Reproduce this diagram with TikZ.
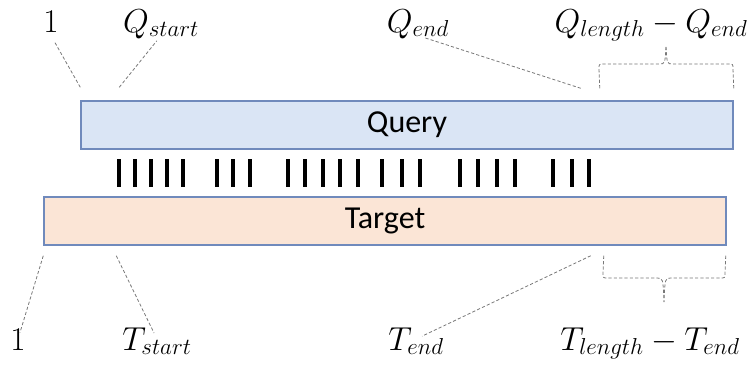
\documentclass[tikz,border=0pt]{standalone}
\usepackage{fontspec}
\newfontfamily\boxfont{Carlito}
\usepackage{tikz}
\usetikzlibrary{calc}

\definecolor{qfill}{HTML}{DAE5F5}
\definecolor{tfill}{HTML}{FBE5D6}
\definecolor{boxline}{RGB}{112,138,188}
\definecolor{guidegray}{RGB}{120,120,120}

\begin{document}
\begin{tikzpicture}[x=0.75pt,y=-0.75pt,
      seqbox/.style={draw=boxline,line width=1.1pt,minimum height=36pt,
        inner sep=0pt,font=\boxfont\fontsize{24}{28}\selectfont},
      lbl/.style={anchor=base,inner sep=0pt,text height=0.8em,text depth=0.25em,
        font=\fontsize{23}{28}\selectfont},
      guide/.style={draw=guidegray,line width=0.6pt,dash pattern=on 2.4pt off 1.6pt,
        shorten >=5pt},
      bracket/.style={draw=guidegray,line width=0.6pt,dash pattern=on 2.4pt off 1.6pt},
      match/.style={line width=3.2pt,black}]
    \useasboundingbox (0,0) rectangle (749,368);

    \node[seqbox,fill=qfill,minimum width=489pt] (query) at (407,125) {Query};
    \node[seqbox,fill=tfill,minimum width=511.5pt] (target) at (385,221) {Target};

    \foreach \x in {119,135,151,167,183,217,233,250,288,305,323,340,358,
                    382,402,420,460,478,497,515,553,572,589}
        \draw[match] (\x,159) -- (\x,187);

    \node[lbl] (oneq) at (51,32) {$1$};
    \node[lbl] (qs) at (161,32) {$Q_{start}$};
    \node[lbl] (qe) at (418,32) {$Q_{end}$};
    \node[lbl] (qrest) at (651,32) {$Q_{length}-Q_{end}$};

    \node[lbl] (onet) at (18,350) {$1$};
    \node[lbl] (ts) at (157,350) {$T_{start}$};
    \node[lbl] (te) at (416,350) {$T_{end}$};
    \node[lbl] (trest) at (650,350) {$T_{length}-T_{end}$};

    \coordinate (qa) at ($(query.north west)+(0,-13)$);
    \coordinate (qb) at ($(query.north west)+(39,-13)$);
    \coordinate (qc) at ($(query.north east)+(-153,-12)$);
    \coordinate (qrl) at ($(query.north east)+(-134,-12)$);
    \coordinate (qrr) at ($(query.north east)+(0,-12)$);
    \coordinate (qtip) at (666,47);

    \coordinate (ta) at ($(target.south west)+(0,10)$);
    \coordinate (tb) at ($(target.south west)+(73,10)$);
    \coordinate (tc) at ($(target.south east)+(-136,10)$);
    \coordinate (trl) at ($(target.south east)+(-123,10)$);
    \coordinate (trr) at ($(target.south east)+(-1,10)$);
    \coordinate (ttip) at (664,302);

    \draw[guide] (qa) -- (oneq.south);
    \draw[guide] (qb) -- (qs.south);
    \draw[guide] (qc) -- (qe.south);
    \draw[guide] (ta) -- (onet.north);
    \draw[guide] (tb) -- (ts.north);
    \draw[guide] (tc) -- (te.north);

    \draw[bracket] (qrl) -- (599,69) .. controls (599,64) .. (604,64) -- (659,64)
        .. controls (665,64) .. (qtip);
    \draw[bracket] (qrr) -- (733,69) .. controls (733,64) .. (728,64) -- (673,64)
        .. controls (667,64) .. (qtip);
    \draw[bracket] (trl) -- (603,273) .. controls (603,278) .. (608,278) -- (657,278)
        .. controls (663,278) .. (ttip);
    \draw[bracket] (trr) -- (725,273) .. controls (725,278) .. (720,278) -- (671,278)
        .. controls (665,278) .. (ttip);
  \end{tikzpicture}
\end{document}
